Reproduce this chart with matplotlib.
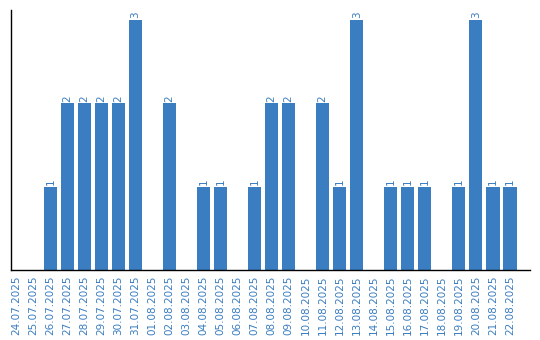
import matplotlib
matplotlib.use("Agg")
import matplotlib.pyplot as plt

dates = ["24.07.2025", "25.07.2025", "26.07.2025", "27.07.2025", "28.07.2025",
         "29.07.2025", "30.07.2025", "31.07.2025", "01.08.2025", "02.08.2025",
         "03.08.2025", "04.08.2025", "05.08.2025", "06.08.2025", "07.08.2025",
         "08.08.2025", "09.08.2025", "10.08.2025", "11.08.2025", "12.08.2025",
         "13.08.2025", "14.08.2025", "15.08.2025", "16.08.2025", "17.08.2025",
         "18.08.2025", "19.08.2025", "20.08.2025", "21.08.2025", "22.08.2025"]
values = [0, 0, 1, 2, 2, 2, 2, 3, 0, 2, 0, 1, 1, 0, 1, 2, 2, 0, 2, 1, 3, 0,
          1, 1, 1, 0, 1, 3, 1, 1]

bar_color = "#3b7dc1"
text_color = "#3a7dc0"

fig = plt.figure(figsize=(5.4, 3.4), dpi=100)
ax = fig.add_axes([0.0204, 0.206, 0.961, 0.765])
x = list(range(len(dates)))
bars = ax.bar(x, values, width=0.78, color=bar_color)
for xi, v in zip(x, values):
    if v > 0:
        ax.text(xi, v + 0.02, str(v), rotation=90, ha="center", va="bottom",
                fontsize=7.5, color=text_color)
ax.set_xlim(-0.32, 30.18)
ax.set_ylim(0, 3.12)
ax.set_xticks(x)
ax.set_xticklabels(dates, rotation=90, fontsize=7.5, color=text_color)
ax.tick_params(axis="x", length=0, pad=4)
ax.set_yticks([])
for s in ["top", "right"]:
    ax.spines[s].set_visible(False)
ax.spines["left"].set_linewidth(1)
ax.spines["bottom"].set_linewidth(1)
fig.savefig("out.png", dpi=100)
